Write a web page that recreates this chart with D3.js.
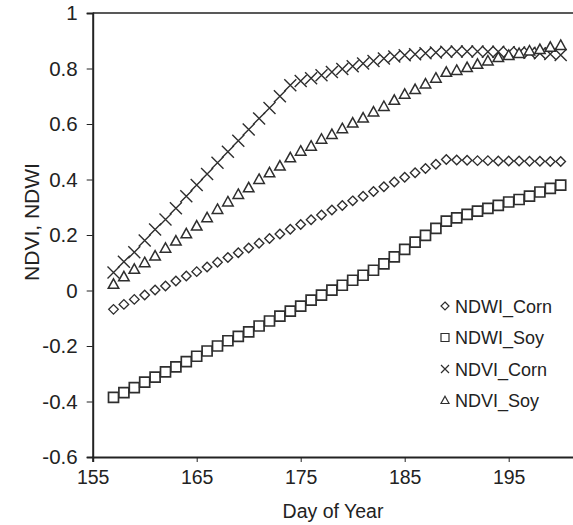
<!DOCTYPE html>
<html>
<head>
<meta charset="utf-8">
<script src="https://cdn.jsdelivr.net/npm/d3@7"></script>
<style>
  body { margin: 0; background: #fff; }
  svg { display: block; font-family: "Liberation Sans", Arial, sans-serif; }
</style>
</head>
<body>
<div id="chart"></div>
<script>
// --- Data ---
const days = d3.range(157, 201); // 157 .. 200

const ndwiCorn = [-0.068, -0.05, -0.032, -0.016, 0.002, 0.016, 0.034, 0.052, 0.068, 0.085,
  0.102, 0.119, 0.136, 0.153, 0.17, 0.187, 0.204, 0.221, 0.238, 0.255,
  0.272, 0.29, 0.306, 0.323, 0.34, 0.357, 0.374, 0.391, 0.408, 0.424,
  0.44, 0.455, 0.472, 0.47, 0.469, 0.468, 0.468, 0.467, 0.467, 0.467,
  0.466, 0.466, 0.465, 0.465];

const ndwiSoy = [-0.385, -0.368, -0.35, -0.33, -0.312, -0.293, -0.275, -0.256, -0.237, -0.218,
  -0.2, -0.181, -0.165, -0.149, -0.128, -0.11, -0.092, -0.074, -0.056, -0.035,
  -0.017, 0.001, 0.019, 0.037, 0.055, 0.073, 0.096, 0.121, 0.148, 0.174,
  0.199, 0.224, 0.25, 0.262, 0.274, 0.286, 0.296, 0.307, 0.319, 0.328,
  0.34, 0.355, 0.368, 0.38];

const ndviCorn = [0.065, 0.104, 0.138, 0.18, 0.22, 0.256, 0.296, 0.34, 0.38, 0.42,
  0.46, 0.5, 0.54, 0.58, 0.62, 0.658, 0.7, 0.74, 0.755, 0.765,
  0.776, 0.787, 0.798, 0.808, 0.818, 0.827, 0.836, 0.843, 0.848, 0.851,
  0.855, 0.858, 0.86, 0.861, 0.861, 0.861, 0.86, 0.86, 0.859, 0.858,
  0.857, 0.855, 0.852, 0.849];

const ndviSoy = [0.022, 0.049, 0.076, 0.1, 0.124, 0.152, 0.178, 0.204, 0.232, 0.262,
  0.292, 0.319, 0.346, 0.37, 0.4, 0.424, 0.448, 0.478, 0.502, 0.52,
  0.545, 0.562, 0.583, 0.603, 0.621, 0.643, 0.663, 0.685, 0.707, 0.724,
  0.744, 0.765, 0.786, 0.793, 0.803, 0.815, 0.827, 0.839, 0.847, 0.854,
  0.863, 0.868, 0.876, 0.883];

const xTicks = [155, 165, 175, 185, 195];
const yTicks = [-0.6, -0.4, -0.2, 0, 0.2, 0.4, 0.6, 0.8, 1];

const seriesNames = ["NDWI_Corn", "NDWI_Soy", "NDVI_Corn", "NDVI_Soy"];
const seriesValues = [ndwiCorn, ndwiSoy, ndviCorn, ndviSoy];
const seriesShapes = ["diamond", "square", "cross", "triangle"];

// --- Layout ---
const width = 573, height = 525;
const plotLeft = 92.7, plotTop = 13, plotBottom = 457;

const svg = d3.select("#chart").append("svg")
    .attr("width", width)
    .attr("height", height);

const x = d3.scaleLinear().domain([155, 205]).range([plotLeft, plotLeft + 520]);
const y = d3.scaleLinear().domain([-0.6, 1]).range([plotBottom, plotTop]);

const ink = "#2e2e2e";

// marker path generators (centered at 0,0)
function markerPath(shape, s) {
    const h = s / 2;
    if (shape === "diamond") return `M0,${-h}L${h},0L0,${h}L${-h},0Z`;
    if (shape === "square") return `M${-h},${-h}H${h}V${h}H${-h}Z`;
    if (shape === "cross") return `M${-h},${-h}L${h},${h}M${-h},${h}L${h},${-h}`;
    // triangle
    return `M0,${-h * 1.05}L${h},${h * 0.75}L${-h},${h * 0.75}Z`;
}
const markerSize = { diamond: 9.5, square: 10, cross: 12, triangle: 10.5 };
const markerWidth = { diamond: 1.4, square: 1.7, cross: 1.4, triangle: 1.5 };

// --- Frame / axes ---
svg.append("line")
    .attr("x1", plotLeft).attr("x2", width + 5)
    .attr("y1", plotTop).attr("y2", plotTop)
    .attr("stroke", "#222").attr("stroke-width", 1.6);

const xAxis = svg.append("g")
    .attr("transform", `translate(0,${plotBottom})`)
    .call(d3.axisBottom(x).tickValues(xTicks).tickSize(5).tickPadding(8).tickFormat(d3.format("d")));
xAxis.select(".domain").attr("stroke", "#222").attr("stroke-width", 2);
xAxis.selectAll(".tick line").attr("stroke", "#222").attr("stroke-width", 1);
xAxis.selectAll(".tick text")
    .attr("fill", "#222")
    .style("font-size", "19.5px")
    .style("font-family", "'Liberation Sans', Arial, sans-serif");

const yAxis = svg.append("g")
    .attr("transform", `translate(${plotLeft},0)`)
    .call(d3.axisLeft(y).tickValues(yTicks).tickSize(6).tickPadding(9).tickFormat(d => String(+d.toFixed(1))));
yAxis.select(".domain").attr("stroke", "#222").attr("stroke-width", 2);
yAxis.selectAll(".tick line").attr("stroke", "#222").attr("stroke-width", 1);
yAxis.selectAll(".tick text")
    .attr("fill", "#222")
    .style("font-size", "20.5px")
    .style("font-family", "'Liberation Sans', Arial, sans-serif");

// --- Axis titles ---
svg.append("text")
    .attr("x", 333)
    .attr("y", 518)
    .attr("text-anchor", "middle")
    .attr("fill", "#222")
    .style("font-size", "19.5px")
    .text("Day of Year");

svg.append("text")
    .attr("transform", "translate(39,222) rotate(-90)")
    .attr("text-anchor", "middle")
    .attr("fill", "#222")
    .style("font-size", "21px")
    .text("NDVI, NDWI");

// --- Series markers ---
seriesValues.forEach((vals, si) => {
    const shape = seriesShapes[si];
    svg.append("g").selectAll("path")
        .data(vals)
        .enter()
        .append("path")
        .attr("transform", (d, i) => `translate(${x(days[i])},${y(d)})`)
        .attr("d", markerPath(shape, markerSize[shape]))
        .attr("fill", shape === "cross" ? "none" : "#fff")
        .attr("stroke", ink)
        .attr("stroke-width", markerWidth[shape]);
});

// --- Legend ---
const legend = svg.append("g").attr("transform", "translate(445,306)");
seriesNames.forEach((name, i) => {
    const g = legend.append("g").attr("transform", `translate(0,${i * 31.5})`);
    const shape = seriesShapes[i];
    g.append("path")
        .attr("d", markerPath(shape, 8))
        .attr("fill", "#fff")
        .attr("stroke", ink)
        .attr("stroke-width", 1.2);
    g.append("text")
        .attr("x", 10)
        .attr("y", 6.5)
        .attr("fill", "#222")
        .style("font-size", "18px")
        .text(name);
});
</script>
</body>
</html>
